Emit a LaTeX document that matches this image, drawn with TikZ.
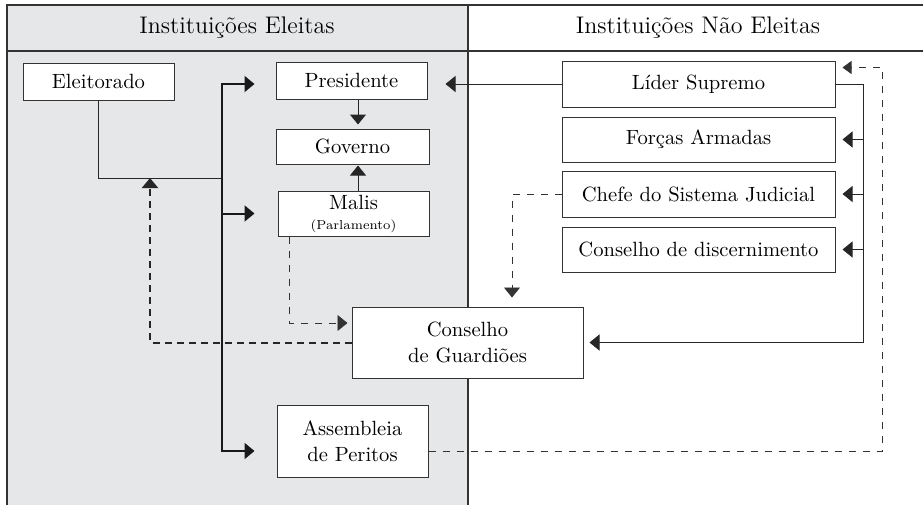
\documentclass[tikz,border=0pt]{standalone}
\usetikzlibrary{arrows.meta,calc}
\definecolor{cinza}{RGB}{230,231,233}
\tikzset{
  caixa/.style={draw=black!80, line width=0.5pt, fill=white, inner sep=0pt,
    align=center, text=black, font=\fontsize{10.3}{13}\selectfont},
  titulo/.style={text=black, font=\fontsize{12}{14}\selectfont},
  seta/.style={-{Triangle[length=5pt,width=8pt]}},
  setamenor/.style={-{Triangle[length=4.5pt,width=6.5pt]}},
  fino/.style={draw=black!85, line width=0.5pt},
  tronco/.style={draw=black!90, line width=1pt},
  tracejado/.style={draw=black!80, line width=0.4pt, dash pattern=on 3.5pt off 3.5pt},
  tracejadogrosso/.style={draw=black!85, line width=1pt, dash pattern=on 3.5pt off 2.5pt},
}
\begin{document}
\begin{tikzpicture}[x=0.5pt,y=-0.5pt]
		\useasboundingbox (0,0) rectangle (923,505);
		% Colunas
		\fill[cinza] (7,5) rectangle (468,505);
		\draw[line width=0.7pt, black!80] (923,5) -- (7,5) -- (7,505);
		\draw[line width=0.7pt, black!80] (7,51) -- (923,51);
		\draw[line width=0.7pt, black!80] (468,5) -- (468,505);
		\node[titulo] (tit1) at (237,28) {Instituições Eleitas};
		\node[titulo] (tit2) at (698,28) {Instituições Não Eleitas};
		% Instituições eleitas
		\node[caixa, minimum width=75.5pt, minimum height=18.5pt] (elei) at (98.5,81.5) {Eleitorado};
		\node[caixa, minimum width=75.5pt, minimum height=18.5pt] (pres) at (351.5,80.5) {Presidente};
		\node[caixa, minimum width=76.5pt, minimum height=17.5pt] (gove) at (352.5,146.5) {Governo};
		\node[caixa, minimum width=75.5pt, minimum height=22.5pt] (mali) at (353.5,213.5)
			{Malis\\[-3pt]{\fontsize{6.5}{7}\selectfont (Parlamento)}};
		\node[caixa, minimum width=115.5pt, minimum height=35.5pt] (cgua) at (467.5,342.5) {Conselho\\de Guardiões};
		\node[caixa, minimum width=75.5pt, minimum height=36pt] (asse) at (352.5,441) {Assembleia\\de Peritos};
		% Instituições não eleitas
		\node[caixa, minimum width=136.5pt, minimum height=23pt] (lide) at (698.5,84) {Líder Supremo};
		\node[caixa, minimum width=136.5pt, minimum height=22.5pt] (forc) at (698.5,139.5) {Forças Armadas};
		\node[caixa, minimum width=136.5pt, minimum height=23pt] (chef) at (698.5,194) {Chefe do Sistema Judicial};
		\node[caixa, minimum width=136.5pt, minimum height=22.5pt] (cdis) at (698.5,249.5) {Conselho de discernimento};
		% Eleitorado
		\draw[fino] (elei.south) |- (222,178) coordinate (no);
		\draw[tronco,seta,shorten >=10.5pt] (no) |- ([yshift=-1.75pt]pres.west);
		\draw[tronco,seta,shorten >=11.5pt] (no |- mali.west) -- (mali.west);
		\draw[tronco,seta,shorten >=11pt] (no) |- ([yshift=-5pt]asse.west);
		% Governo
		\coordinate (pg) at ($(pres.south)+(6.5,0)$);
		\coordinate (mg) at ($(mali.north)+(4.5,0)$);
		\draw[fino,seta,shorten >=2pt] (pg) -- (pg |- gove.north);
		\draw[fino,seta,shorten >=0.5pt] (mg) -- (mg |- gove.south);
		% Líder Supremo
		\draw[fino,seta,shorten >=9pt] (lide.west) -- (lide.west -| pres.east);
		\draw[fino] (lide.east) -- ++(28,0) coordinate (ld);
		\draw[fino,seta,shorten >=3pt] (ld) |- (cgua.east);
		\foreach \n in {forc,chef,cdis}
			\draw[fino,seta,shorten >=3.5pt] (ld |- \n.east) -- (\n.east);
		% Tracejados
		\draw[tracejado,setamenor,shorten >=3.5pt] ([yshift=-5pt]asse.east)
			-| ([xshift=23.5pt,yshift=-3.5pt]lide.north east) -- ([yshift=-3.5pt]lide.north east);
		\draw[tracejado,seta,shorten >=4.5pt] (chef.west) -| ($(cgua.north)+(44.5,0)$);
		\draw[tracejado,seta,shorten >=2pt] ($(mali.south west)+(12,0)$) |- ($(cgua.west)+(0,-19.5)$);
		\draw[tracejadogrosso,seta] (cgua.west) -| ($(no)+(-72,0)$);
	\end{tikzpicture}
\end{document}
